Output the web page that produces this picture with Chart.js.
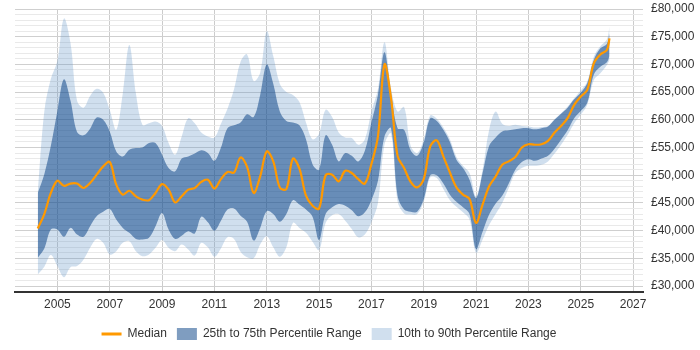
<!DOCTYPE html>
<html>
<head>
<meta charset="utf-8">
<title>Salary percentiles</title>
<script src="https://cdn.jsdelivr.net/npm/chart.js@4.4.1/dist/chart.umd.min.js"></script>
<style>
html, body { margin: 0; padding: 0; background: #fff; }
#wrap { width: 700px; height: 350px; position: relative; }
</style>
</head>
<body>
<div id="wrap"><canvas id="salaryChart"></canvas></div>
<script>
/* ================= DATA (values in £ thousands) ================= */
var years = [
    2004.25, 2004.5, 2004.75, 2005, 2005.25, 2005.5, 2005.75, 2006, 2006.25, 2006.5, 2006.75,
    2007, 2007.25, 2007.5, 2007.75, 2008, 2008.25, 2008.5, 2008.75, 2009, 2009.25, 2009.5, 2009.75,
    2010, 2010.25, 2010.5, 2010.75, 2011, 2011.25, 2011.5, 2011.75, 2012, 2012.25, 2012.5, 2012.75,
    2013, 2013.25, 2013.5, 2013.75, 2014, 2014.25, 2014.5, 2014.75, 2015, 2015.25, 2015.5, 2015.75,
    2016, 2016.25, 2016.5, 2016.75, 2017, 2017.25, 2017.5, 2017.75, 2018, 2018.25, 2018.5, 2018.75,
    2019, 2019.25, 2019.5, 2019.75, 2020, 2020.25, 2020.5, 2020.75, 2021, 2021.25, 2021.5, 2021.75,
    2022, 2022.25, 2022.5, 2022.75, 2023, 2023.25, 2023.5, 2023.75, 2024, 2024.25, 2024.5, 2024.75,
    2025, 2025.25, 2025.5, 2025.75, 2026, 2026.1
];
var p90 = [
    47.0, 61.5, 67.4, 70.6, 78.3, 73.9, 63.5, 62.2, 64.3, 65.6, 64.9,
    61.8, 58.2, 64.8, 73.5, 64.8, 59.1, 59.4, 59.7, 58.9, 55.8, 53.7, 57.0,
    60.3, 59.4, 57.7, 57.0, 56.8, 59.3, 62.0, 65.5, 70.5, 71.8, 67.0, 68.5,
    76.0, 71.5, 66.5, 65.0, 64.5, 63.2, 59.5, 56.5, 57.5, 61.8, 60.5, 57.7,
    56.8, 56.7, 55.5, 56.5, 61.5, 65.5, 74.0, 65.7, 61.5, 62.3, 55.3, 54.0,
    56.5, 60.8, 60.2, 58.6, 56.5, 53.3, 51.7, 50.4, 46.2, 51.0, 58.2, 61.5,
    59.3, 58.9, 59.1, 58.9, 58.8, 58.6, 58.7, 58.9, 60.1, 61.2, 62.4, 63.9,
    65.3, 66.9, 71.4, 73.3, 74.5, 76.8
];
var p75 = [
    46.8, 50.2, 55.3, 61.6, 67.3, 63.5, 57.8, 57.2, 58.4, 60.4, 60.0,
    57.9, 54.3, 53.4, 54.6, 54.9, 55.0, 55.8, 55.8, 53.7, 51.3, 50.7, 53.0,
    53.4, 53.9, 54.5, 54.0, 52.6, 55.0, 58.5, 59.0, 59.5, 61.0, 60.5, 64.5,
    70.0, 66.5, 61.5, 59.8, 59.5, 59.0, 56.5, 52.0, 51.0, 57.2, 55.5, 52.5,
    54.0, 53.5, 52.5, 54.4, 59.5, 64.5, 72.2, 64.8, 58.5, 58.2, 54.5, 53.5,
    55.9, 60.3, 59.8, 58.2, 56.0, 52.8, 51.3, 49.2, 45.9, 50.4, 55.3, 56.8,
    57.9, 58.1, 58.3, 58.5, 58.5, 58.3, 58.5, 58.8, 60.0, 61.1, 62.2, 63.7,
    64.9, 66.6, 70.8, 72.9, 73.7, 75.6
];
var median = [
    40.4, 43.0, 46.8, 49.0, 48.1, 48.5, 48.5, 47.7, 48.6, 50.1, 51.6,
    52.4, 48.3, 46.5, 47.2, 46.2, 45.6, 45.5, 46.8, 48.4, 47.4, 45.1, 46.2,
    47.4, 47.7, 48.8, 49.2, 47.6, 49.3, 50.6, 50.5, 53.2, 51.5, 46.8, 49.8,
    54.3, 52.5, 47.8, 47.5, 53.0, 51.2, 46.3, 44.5, 44.0, 50.0, 50.1, 48.9,
    50.8, 50.4, 49.3, 48.5, 52.0, 57.0, 70.0, 63.9, 53.5, 51.3, 48.8, 47.8,
    49.3, 55.2, 56.3, 53.4, 50.5, 47.8, 46.5, 45.7, 41.4, 44.7, 48.0, 49.8,
    51.9, 52.5, 53.3, 55.0, 55.6, 55.5, 55.6, 56.2, 57.7, 58.9, 60.3, 62.7,
    64.2, 65.4, 70.2, 71.8, 72.6, 74.7
];
var p25 = [
    35.1, 36.8, 40.2, 40.2, 38.9, 40.5, 39.3, 38.9, 40.8, 42.6, 43.4,
    43.9, 42.0, 40.5, 39.6, 38.5, 38.4, 38.7, 40.8, 43.2, 40.2, 38.5, 39.1,
    39.9, 39.5, 42.5, 41.5, 40.0, 41.8, 43.8, 44.0, 42.7, 41.6, 38.2, 40.5,
    43.5, 43.0, 41.6, 43.0, 45.5, 44.7, 43.8, 42.5, 38.3, 43.0, 44.2, 44.8,
    44.5, 43.7, 42.6, 43.3, 45.5, 49.0, 57.0, 58.5, 46.3, 43.8, 43.4, 43.4,
    45.7, 50.0, 50.0, 48.5, 46.5, 45.2, 44.2, 43.0, 36.7, 39.8, 42.9, 44.9,
    46.3, 48.5, 51.0, 52.4, 52.9, 52.6, 53.0, 53.5, 54.8, 56.4, 58.1, 60.3,
    61.6, 63.1, 68.2, 69.6, 70.4, 71.5
];
var p10 = [
    32.1, 33.5, 35.6, 33.6, 31.6, 33.4, 33.6, 34.8, 36.9, 38.5, 37.8,
    35.7, 36.3, 37.8, 38.1, 36.3, 35.4, 35.7, 36.9, 38.3, 36.9, 36.3, 37.5,
    36.6, 35.5, 37.8, 37.0, 35.3, 36.8, 38.8, 38.5, 36.2, 35.2, 35.0, 37.5,
    39.0, 37.0, 35.3, 37.0, 41.4, 40.5, 39.6, 38.0, 36.5, 41.4, 42.8, 43.0,
    41.8, 40.3, 38.8, 39.3, 41.5, 45.0, 55.5, 57.5, 45.3, 43.1, 42.9, 43.0,
    45.2, 49.6, 49.5, 47.5, 45.5, 44.3, 43.3, 42.0, 36.0, 38.4, 41.0, 43.0,
    45.0, 47.7, 50.4, 51.3, 51.7, 51.7, 51.9, 52.5, 53.9, 55.5, 57.3, 59.4,
    60.9, 62.7, 67.2, 68.4, 69.9, 70.8
];
var yearTicks = [2005, 2007, 2009, 2011, 2013, 2015, 2017, 2019, 2021, 2023, 2025, 2027];
var legendLabels = ["Median", "25th to 75th Percentile Range", "10th to 90th Percentile Range"];

/* ================= STYLE ================= */
var FONT = "'Liberation Sans', Arial, sans-serif";
var ORANGE = "#ff9900";
var DARK = "rgba(0,60,130,0.5)";
var LIGHT = "rgba(100,150,200,0.3)";

/* ================= HELPERS ================= */
function toPoints(values) {
    return years.map(function (x, i) { return { x: x, y: values[i] }; });
}
function band(values, color, fillTarget) {
    return {
        data: toPoints(values),
        borderWidth: 0,
        borderColor: color,
        backgroundColor: color,
        pointRadius: 0,
        fill: fillTarget
    };
}

/* ================= CHART ================= */
var yTickValues = [];
for (var v = 29; v <= 80; v++) yTickValues.push(v);

new Chart(document.getElementById("salaryChart"), {
    type: "line",
    data: {
        datasets: [
            {
                label: legendLabels[0],
                data: toPoints(median),
                borderColor: ORANGE,
                borderWidth: 2.2,
                pointRadius: 0,
                fill: false
            },
            band(p75, DARK, "+1"),
            band(p25, DARK, false),
            band(p90, LIGHT, "+1"),
            band(p10, LIGHT, false)
        ]
    },
    options: {
        animation: false,
        responsive: true,
        maintainAspectRatio: false,
        layout: { padding: { left: 15, right: 0, top: 9, bottom: 0 } },
        elements: { line: { tension: 0.35 } },
        plugins: {
            tooltip: { enabled: false },
            legend: {
                position: "bottom",
                fullSize: false,
                labels: {
                    usePointStyle: true,
                    pointStyleWidth: 20,
                    boxHeight: 12,
                    padding: 10,
                    color: "#333",
                    font: { family: FONT, size: 12 },
                    generateLabels: function () {
                        return [
                            { text: legendLabels[0], fillStyle: ORANGE, strokeStyle: ORANGE, lineWidth: 3, pointStyle: "line", hidden: false, datasetIndex: 0, fontColor: "#333" },
                            { text: legendLabels[1], fillStyle: DARK, strokeStyle: DARK, lineWidth: 0, pointStyle: "rect", hidden: false, datasetIndex: 1, fontColor: "#333" },
                            { text: legendLabels[2], fillStyle: LIGHT, strokeStyle: LIGHT, lineWidth: 0, pointStyle: "rect", hidden: false, datasetIndex: 3, fontColor: "#333" }
                        ];
                    }
                }
            }
        },
        scales: {
            x: {
                type: "linear",
                min: 2003.38,
                max: 2027.38,
                afterBuildTicks: function (axis) {
                    axis.ticks = yearTicks.map(function (y) { return { value: y }; });
                },
                ticks: {
                    autoSkip: false,
                    maxRotation: 0,
                    padding: 6,
                    color: "#333",
                    font: { family: FONT, size: 12 },
                    callback: function (value) { return String(value); }
                },
                grid: { color: "#cccccc", drawTicks: false },
                border: { color: "#333", width: 2 }
            },
            y: {
                position: "right",
                min: 29,
                max: 80,
                afterBuildTicks: function (axis) {
                    axis.ticks = yTickValues.map(function (t) { return { value: t }; });
                },
                afterFit: function (axis) {
                    axis.width = 57;
                    axis.paddingTop = 0;
                    axis.paddingBottom = 0;
                },
                ticks: {
                    autoSkip: false,
                    padding: 8,
                    color: "#333",
                    font: { family: FONT, size: 12 },
                    callback: function (value) {
                        return (value % 5 === 0 && value >= 30) ? "£" + value + ",000" : "";
                    }
                },
                grid: {
                    drawTicks: false,
                    color: function (ctx) {
                        return ctx.tick && ctx.tick.value % 5 === 0 ? "#cfcfcf" : "#e9e9e9";
                    }
                },
                border: { display: false }
            }
        }
    }
});
</script>
</body>
</html>
